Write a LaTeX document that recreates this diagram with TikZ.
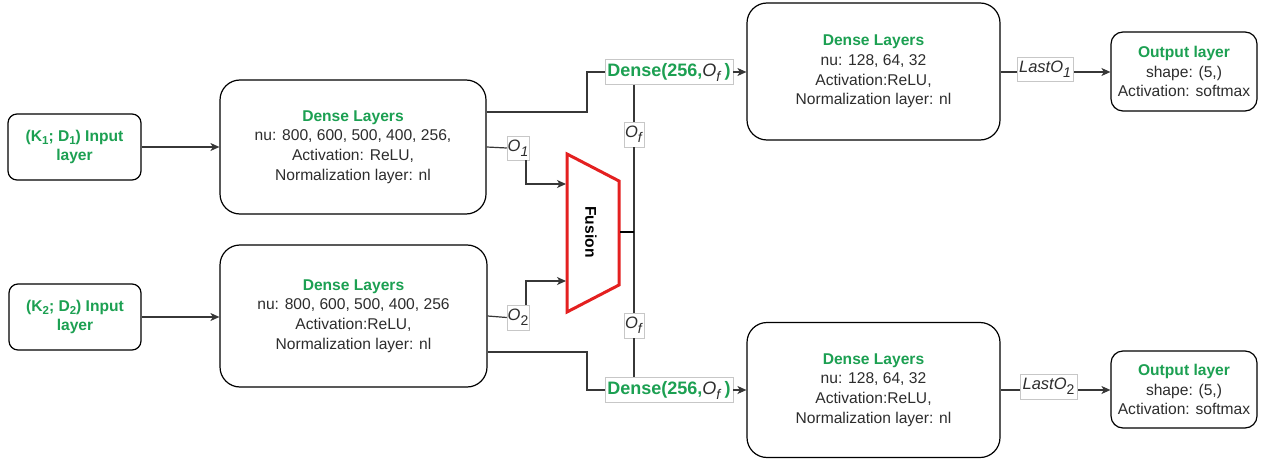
\documentclass[tikz,border=0pt]{standalone}
\usepackage{fontspec}
\setmainfont{Liberation Sans}
\usetikzlibrary{arrows.meta,calc}
\definecolor{grn}{RGB}{28,160,82}
\definecolor{txt}{RGB}{45,45,45}
\definecolor{lnc}{RGB}{55,55,55}
\definecolor{fusred}{RGB}{228,32,32}
\newcommand\mysub[1]{\raisebox{-3.5pt}{\fontsize{11.5}{11.5}\selectfont #1}}
\newcommand\bigsub[1]{\raisebox{-5pt}{\fontsize{14}{14}\selectfont #1}}
\tikzset{
  box/.style={draw=black,line width=1.2pt,fill=white,align=center,text=txt,
    font=\fontsize{15.6}{19.6}\selectfont,inner sep=0pt},
  conn/.style={draw=lnc,line width=1.2pt},
  arr/.style={conn,-{Stealth[length=9pt,width=8pt,inset=2.5pt]}},
  lab/.style={draw=black!22,line width=0.5pt,fill=white,inner sep=0pt,text=txt,
    font=\fontsize{16.5}{18}\selectfont},
  dlab/.style={lab,font=\fontsize{18}{20}\selectfont}
}
\begin{document}
\begin{tikzpicture}[x=1pt,y=-1pt]
\useasboundingbox[fill=white] (0,0) rectangle (1265,465);
% boxes
\node[box,rounded corners=9pt,minimum width=133pt,minimum height=66pt] (in1) at (74.5,147)
  {\textcolor{grn}{\bfseries (K\mysub{1}; D\mysub{1}) Input}\\\textcolor{grn}{\bfseries layer}};
\node[box,rounded corners=9pt,minimum width=132pt,minimum height=66pt] (in2) at (75,317)
  {\textcolor{grn}{\bfseries (K\mysub{2}; D\mysub{2}) Input}\\\textcolor{grn}{\bfseries layer}};
\node[box,rounded corners=20pt,minimum width=266pt,minimum height=134pt] (d1) at (353,147)
  {\textcolor{grn}{\bfseries Dense Layers}\\nu: 800, 600, 500, 400, 256,\\Activation: ReLU,\\Normalization layer: nl};
\node[box,rounded corners=20pt,minimum width=267pt,minimum height=142pt] (d2) at (353.5,316)
  {\textcolor{grn}{\bfseries Dense Layers}\\nu: 800, 600, 500, 400, 256\\Activation:ReLU,\\Normalization layer: nl};
\node[box,rounded corners=20pt,minimum width=253pt,minimum height=137pt] (r1) at (873.5,71.5)
  {\textcolor{grn}{\bfseries Dense Layers}\\nu: 128, 64, 32\\Activation:ReLU,\\Normalization layer: nl};
\node[box,rounded corners=20pt,minimum width=253pt,minimum height=135pt] (r2) at (873.5,390)
  {\textcolor{grn}{\bfseries Dense Layers}\\nu: 128, 64, 32\\Activation:ReLU,\\Normalization layer: nl};
\node[box,rounded corners=12pt,minimum width=146pt,minimum height=79pt] (o1) at (1184,71.5)
  {\textcolor{grn}{\bfseries Output layer}\\shape: (5,)\\Activation: softmax};
\node[box,rounded corners=12pt,minimum width=146pt,minimum height=77pt] (o2) at (1184,389.5)
  {\textcolor{grn}{\bfseries Output layer}\\shape: (5,)\\Activation: softmax};
% fusion
\draw[draw=fusred,line width=3pt,line join=miter] (567,154) -- (619,181) -- (619,285) -- (567,312) -- cycle;
\node[rotate=-90,font=\fontsize{15.6}{18}\selectfont\bfseries,text=black] (fus) at (591,232) {Fusion};
\coordinate (fusin1) at (566,184);
\coordinate (fusin2) at (566,281);
\coordinate (fusout) at (620,232);
% labels
\node[dlab,minimum width=128pt,minimum height=25pt] (dl1) at (669,72)
  {\textcolor{grn}{\bfseries Dense(256,}\textit{O}\bigsub{\textit{f}}\,\textcolor{grn}{\bfseries )}};
\node[dlab,minimum width=128pt,minimum height=25pt] (dl2) at (669,390)
  {\textcolor{grn}{\bfseries Dense(256,}\textit{O}\bigsub{\textit{f}}\,\textcolor{grn}{\bfseries )}};
\node[lab,minimum width=20pt,minimum height=25pt] (of1) at (634,134.5) {\textit{O}\bigsub{\textit{f}}};
\node[lab,minimum width=20pt,minimum height=25pt] (of2) at (634,325.5) {\textit{O}\bigsub{\textit{f}}};
\node[lab,minimum width=22pt,minimum height=24pt] (o1l) at (518,148) {\textit{O}\bigsub{\textit{1}}};
\node[lab,minimum width=22pt,minimum height=25pt] (o2l) at (518,317.5) {\textit{O}\bigsub{2}};
% connectors
\draw[arr] (in1) -- (d1);
\draw[arr] (in2.east) -- (in2.east -| d2.west);
\draw[conn] ([yshift=35pt]d1.east) -| (587,72) -- (dl1.west);
\draw[arr] (dl1.east) -- (dl1.east -| r1.west);
\draw[conn] (d1.east) -- (o1l.west);
\draw[arr] (o1l.south -| 526,0) |- (fusin1);
\draw[conn] (d2.east) -- (o2l.west);
\draw[arr] (o2l.north -| 526,0) |- (fusin2);
\draw[conn] ([yshift=-36pt]d2.east) -| (587,390) -- (dl2.west);
\draw[arr] (dl2.east) -- (dl2.east -| r2.west);
\draw[conn] (of1.north |- dl1.south) -- (of1.north);
\draw[conn] (of1.south) -- (of2.north);
\draw[conn] (of2.south) -- (of2.south |- dl2.north);
\draw[line width=1.2pt,black] (fusout) -- (fusout -| of1);
\draw[arr] (r1.east |- 0,72) -- (o1.west |- 0,72);
\draw[arr] (r2.east |- 0,390) -- (o2.west |- 0,390);
\node[lab,minimum width=56pt,minimum height=24pt] (last1) at (1045,69) {\textit{LastO}\bigsub{\textit{1}}};
\node[lab,minimum width=57pt,minimum height=25pt] (last2) at (1048.5,386.5) {\textit{LastO}\bigsub{2}};
\end{tikzpicture}
\end{document}
